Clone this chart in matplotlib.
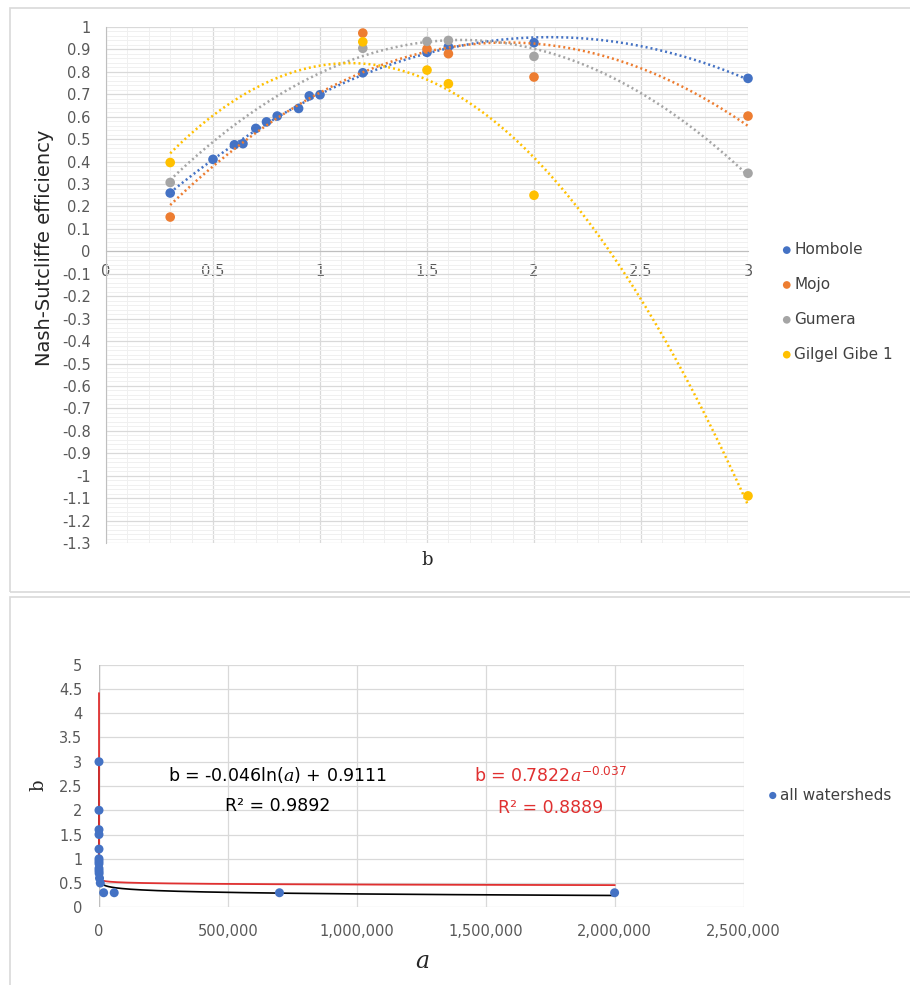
import numpy as np
import matplotlib
matplotlib.use('Agg')
import matplotlib.pyplot as plt
from matplotlib.patches import Rectangle
from matplotlib.ticker import MultipleLocator, FuncFormatter

plt.rcParams['font.family'] = ['DejaVu Sans']
plt.rcParams['mathtext.fontset'] = 'custom'
plt.rcParams['mathtext.rm'] = 'DejaVu Sans'
plt.rcParams['mathtext.it'] = 'DejaVu Serif:italic'

# top chart: Nash-Sutcliffe efficiency against b
b_hombole = [0.3, 0.5, 0.6, 0.64, 0.7, 0.75, 0.8, 0.9, 0.95, 1.0, 1.2, 1.5, 1.6, 2.0, 3.0]
nse_hombole = [0.26, 0.41, 0.475, 0.48, 0.548, 0.577, 0.603, 0.637, 0.693, 0.698,
               0.796, 0.887, 0.912, 0.93, 0.771]
b_other = [0.3, 1.2, 1.5, 1.6, 2.0, 3.0]
nse_mojo = [0.153, 0.973, 0.902, 0.881, 0.777, 0.603]
nse_gumera = [0.307, 0.905, 0.936, 0.94, 0.869, 0.348]
nse_gilgel = [0.396, 0.934, 0.808, 0.747, 0.25, -1.09]

# bottom chart: b against a for all watersheds
a_all = [5e-21, 1e-12, 1e-6, 1e-5, 1e-3, 0.05, 0.5, 3, 20, 100, 500, 2000, 5000,
         18000, 59000, 700000, 2000000]
b_all = [3, 2, 1.6, 1.5, 1.2, 1.0, 0.95, 0.9, 0.8, 0.75, 0.7, 0.6, 0.5,
         0.3, 0.3, 0.3, 0.3]
log_coef = (-0.046, 0.9111)
pow_coef = (0.7822, -0.037)

BLUE, ORANGE, GRAY, YELLOW = '#4472C4', '#ED7D31', '#A5A5A5', '#FFC000'
TXT = '#595959'
W, H = 910, 985

fig = plt.figure(figsize=(W / 100, H / 100), dpi=100)


def px_axes(x0, y0, x1, y1):
    return fig.add_axes([x0 / W, 1 - y1 / H, (x1 - x0) / W, (y1 - y0) / H])


# panel frames
for (x0, y0, x1, y1) in [(10, 8, 912, 592), (10, 597, 912, 990)]:
    fig.add_artist(Rectangle((x0 / W, 1 - y1 / H), (x1 - x0) / W, (y1 - y0) / H,
                             transform=fig.transFigure, fill=False,
                             edgecolor='#D9D9D9', lw=1.2))

# ---- top chart ----
ax = px_axes(106, 27, 748, 543)
ax.set_xlim(0, 3)
ax.set_ylim(-1.3, 1.0)
ax.xaxis.set_major_locator(MultipleLocator(0.5))
ax.xaxis.set_minor_locator(MultipleLocator(0.1))
ax.yaxis.set_major_locator(MultipleLocator(0.1))
ax.yaxis.set_minor_locator(MultipleLocator(0.02))
ax.grid(which='major', color='#D9D9D9', lw=0.9)
ax.grid(which='minor', color='#F0F0F0', lw=0.7)
ax.set_axisbelow(True)
for s in ['top', 'right']:
    ax.spines[s].set_visible(False)
ax.spines['bottom'].set_position(('data', 0))
ax.spines['bottom'].set_color('#BFBFBF')
ax.spines['left'].set_color('#BFBFBF')
ax.tick_params(which='both', length=0, labelsize=10.5, colors=TXT)
ax.tick_params(axis='x', pad=9)
ax.tick_params(axis='y', pad=11)
ax.yaxis.set_major_formatter(FuncFormatter(lambda v, p: f'{v:.1f}'.rstrip('0').rstrip('.') if abs(v) > 1e-9 else '0'))
ax.xaxis.set_major_formatter(FuncFormatter(lambda v, p: f'{v:g}'))

xs = np.linspace(0.3, 3.0, 300)
series = [('Hombole', b_hombole, nse_hombole, BLUE),
          ('Mojo', b_other, nse_mojo, ORANGE),
          ('Gumera', b_other, nse_gumera, GRAY),
          ('Gilgel Gibe 1', b_other, nse_gilgel, YELLOW)]
for name, bx, ny, c in series:
    ax.scatter(bx, ny, s=48, color=c, zorder=3, label=name, edgecolors='none', clip_on=False)
for name, bx, ny, c in series:
    p = np.polyfit(bx, ny, 2)
    ax.plot(xs, np.polyval(p, xs), color=c, lw=1.8, ls=(0, (0.8, 1.2)), zorder=4, clip_on=False)

leg = ax.legend(loc='upper left', bbox_to_anchor=((773 - 106) / 642, (543 - 236) / 516),
                frameon=False, fontsize=11, handletextpad=0.0, labelspacing=1.3,
                markerscale=0.8, handlelength=1.0, borderaxespad=0)
for t in leg.get_texts():
    t.set_color('#404040')

fig.text(45 / W, 1 - 248 / H, 'Nash-Sutcliffe efficiency', rotation=90, ha='center',
         va='center', fontsize=14, color='#262626')
fig.text(427 / W, 1 - 560 / H, 'b', ha='center', va='center', fontsize=13,
         family='DejaVu Serif', color='#262626')

# ---- bottom chart ----
bx_ = px_axes(99, 664.7, 743.5, 907.3)
bx_.set_xlim(0, 2500000)
bx_.set_ylim(0, 5)
bx_.xaxis.set_major_locator(MultipleLocator(500000))
bx_.yaxis.set_major_locator(MultipleLocator(0.5))
bx_.grid(color='#D9D9D9', lw=0.9)
bx_.set_axisbelow(True)
for s in ['top', 'right', 'bottom', 'left']:
    bx_.spines[s].set_visible(False)
bx_.axvline(0, color='#BFBFBF', lw=1, zorder=1)
bx_.tick_params(length=0, labelsize=10.5, colors=TXT)
bx_.tick_params(axis='x', pad=12)
bx_.tick_params(axis='y', pad=12)
bx_.xaxis.set_major_formatter(FuncFormatter(lambda v, p: f'{int(v):,}'))
bx_.yaxis.set_major_formatter(FuncFormatter(lambda v, p: f'{v:g}'))

ax_line = np.concatenate([np.geomspace(min(a_all), 1e4, 600),
                          np.linspace(1e4, max(a_all), 600)])
bx_.plot(ax_line, log_coef[0] * np.log(ax_line) + log_coef[1], color='black', lw=1.2,
         zorder=2, clip_on=False)
bx_.plot(ax_line, pow_coef[0] * ax_line ** pow_coef[1], color='#E03030', lw=1.3,
         zorder=2, clip_on=False)
bx_.scatter(a_all, b_all, s=42, color=BLUE, zorder=3, label='all watersheds',
            edgecolors='none', clip_on=False)

leg2 = bx_.legend(loc='center left', bbox_to_anchor=((759 - 99) / 644.5, (907.3 - 795) / 242.6),
                  frameon=False, fontsize=11, handletextpad=0.0, markerscale=0.8,
                  handlelength=1.0, borderaxespad=0)
for t in leg2.get_texts():
    t.set_color('#404040')

fig.text(278 / W, 1 - 775 / H, r'b = -0.046ln($\mathit{a}$) + 0.9111', ha='center',
         va='center', fontsize=12.5, color='black')
fig.text(278 / W, 1 - 806 / H, 'R² = 0.9892', ha='center', va='center', fontsize=12.5,
         color='black')
fig.text(551 / W, 1 - 776 / H, r'b = 0.7822$\mathit{a}^{\mathrm{-0.037}}$', ha='center',
         va='center', fontsize=12.5, color='#E03030')
fig.text(551 / W, 1 - 808 / H, 'R² = 0.8889', ha='center', va='center', fontsize=12.5,
         color='#E03030')

fig.text(38 / W, 1 - 785 / H, 'b', rotation=90, ha='center', va='center', fontsize=13,
         family='DejaVu Serif', color='#262626')
fig.text(422 / W, 1 - 962 / H, 'a', ha='center', va='center', fontsize=17,
         family='DejaVu Serif', style='italic', color='#262626')

fig.savefig('out.png', dpi=100)
